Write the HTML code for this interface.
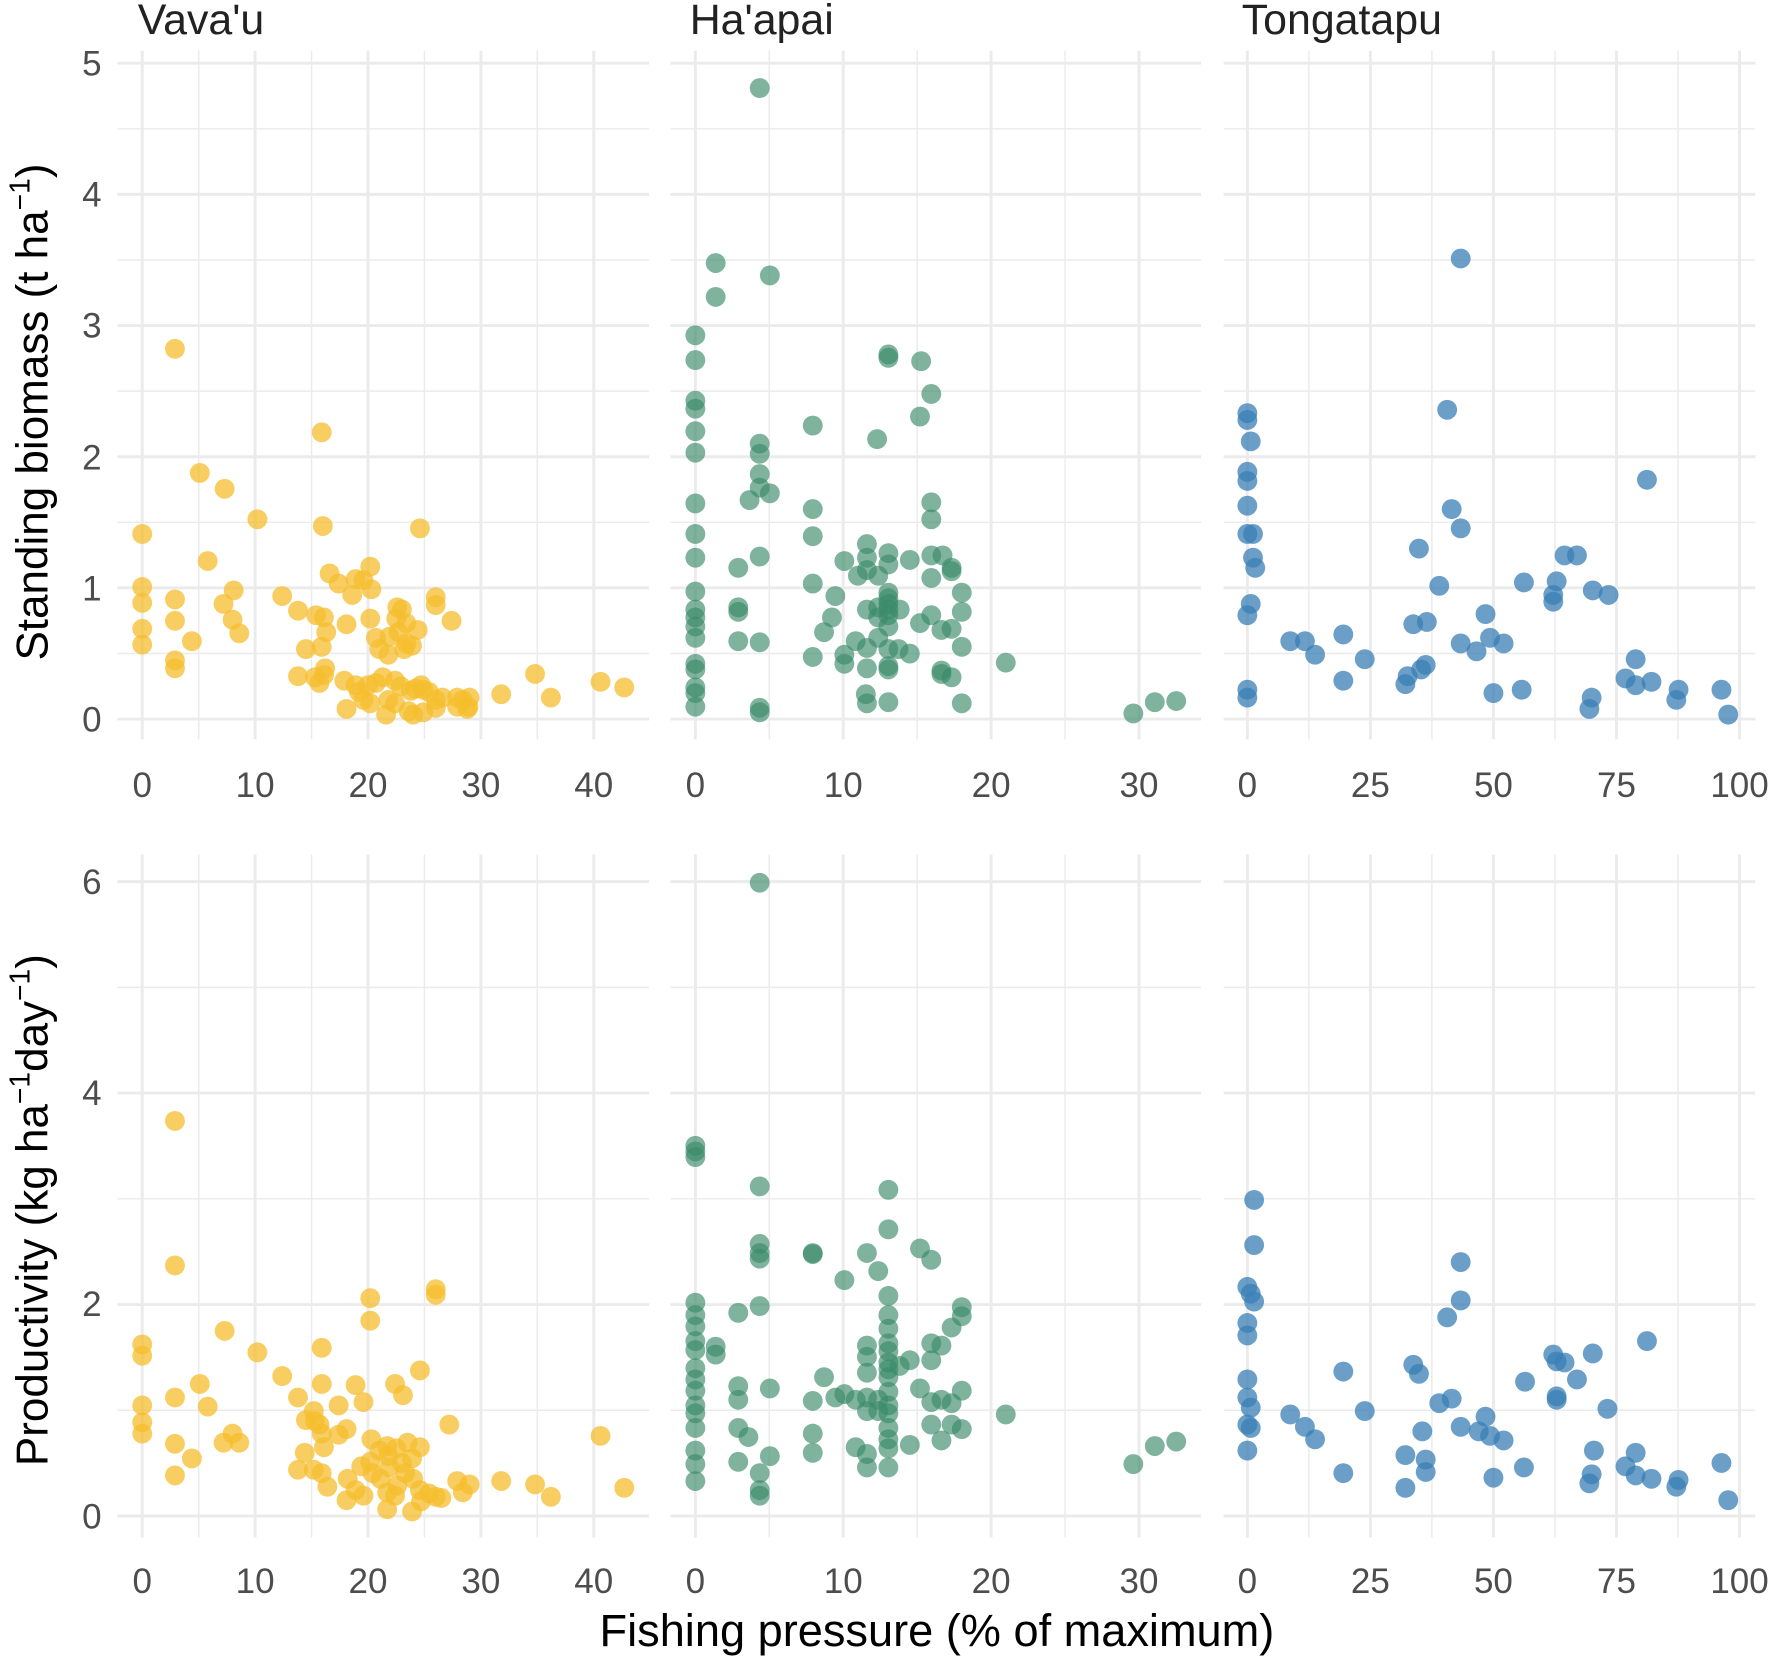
<!DOCTYPE html>
<html><head><meta charset="utf-8"><style>
html,body{margin:0;padding:0;background:#fff}
svg{display:block}
text{font-family:"Liberation Sans",Arial,sans-serif}
</style></head><body>
<svg id="s" width="1770" height="1656" viewBox="0 0 1568 1467" preserveAspectRatio="none" xmlns="http://www.w3.org/2000/svg">
<g id="grid"></g>
<g id="pts"></g>
<g font-size="38" fill="#222">
<text x="122" y="30">Vava'u</text>
<text x="611" y="30">Ha'apai</text>
<text x="1100" y="30">Tongatapu</text>
</g>
<g font-size="31" fill="#4d4d4d" text-anchor="end">
<text x="90" y="648">0</text><text x="90" y="532">1</text><text x="90" y="416">2</text><text x="90" y="299">3</text><text x="90" y="183">4</text><text x="90" y="67">5</text>
<text x="90" y="1354">0</text><text x="90" y="1166">2</text><text x="90" y="979">4</text><text x="90" y="792">6</text>
</g>
<g font-size="31" fill="#4d4d4d" text-anchor="middle" id="xl"></g>
<text transform="translate(42,365) rotate(-90)" font-size="39" fill="#000" text-anchor="middle">Standing biomass (t ha<tspan font-size="25" dy="-16">−1</tspan><tspan dy="16">)</tspan></text>
<text transform="translate(42,1072) rotate(-90)" font-size="39" fill="#000" text-anchor="middle">Productivity (kg ha<tspan font-size="25" dy="-16">−1</tspan><tspan dy="16">day</tspan><tspan font-size="25" dy="-16">−1</tspan><tspan dy="16">)</tspan></text>
<text x="830" y="1458" font-size="40" fill="#000" text-anchor="middle">Fishing pressure (% of maximum)</text>
</svg>
<script>
var NS="http://www.w3.org/2000/svg",g=document.getElementById('grid'),P=document.getElementById('pts'),XL=document.getElementById('xl');
function ln(x1,y1,x2,y2,w){var l=document.createElementNS(NS,'line');l.setAttribute('x1',x1);l.setAttribute('y1',y1);l.setAttribute('x2',x2);l.setAttribute('y2',y2);l.setAttribute('stroke','#ebebeb');l.setAttribute('stroke-width',w);g.appendChild(l);}
var cols=[{a:104,b:575,x0:126,n:4,lab:['0','10','20','30','40'],step:100},{a:594,b:1064,x0:616,n:3,lab:['0','10','20','30'],step:131},{a:1084,b:1555,x0:1105,n:4,lab:['0','25','50','75','100'],step:109}];
var rows=[{t:45,b:655,y0:637,step:116.2,ly:706},{t:757,b:1362,y0:1343,step:93.67,ly:1411}];
rows.forEach(function(r,ri){cols.forEach(function(c){
  if(ri==0){for(var k=0;k<=5;k++){ln(c.a,r.y0-k*r.step,c.b,r.y0-k*r.step,2.6);if(k<5)ln(c.a,r.y0-(k+.5)*r.step,c.b,r.y0-(k+.5)*r.step,1.3);}}
  else{for(var k=0;k<=6;k++){ln(c.a,r.y0-k*r.step,c.b,r.y0-k*r.step,k%2==0?2.6:1.3);}}
  for(var j=0;j<=c.n;j++){var x=c.x0+j*c.step;ln(x,r.t,x,r.b,2.6);if(j<c.n)ln(x+c.step/2,r.t,x+c.step/2,r.b,1.3);
    var t=document.createElementNS(NS,'text');t.setAttribute('x',x);t.setAttribute('y',r.ly);t.textContent=c.lab[j];XL.appendChild(t);}
});});
function dots(arr,col,op){for(var i=0;i<arr.length;i+=2){var c=document.createElementNS(NS,'circle');c.setAttribute('cx',arr[i]);c.setAttribute('cy',arr[i+1]);c.setAttribute('r',8.8);c.setAttribute('fill',col);c.setAttribute('fill-opacity',op);P.appendChild(c);}}
var Y=[155,309,285,383,177,419,199,433,228,460,126,473,286,466,372,468,184,497,126,520,155,531,207,523,198,535,126,534,250,528,264,541,280,545,287,547,292,508,300,517,315,513,312,527,322,514,328,502,329,522,356,540,351,548,386,529,386,536,126,557,155,550,206,549,212,561,126,571,170,568,289,560,307,553,328,548,333,565,345,564,352,538,353,560,360,552,370,558,400,550,271,575,285,573,336,575,344,580,358,575,360,570,365,572,155,585,155,592,264,599,279,600,283,605,288,592,287,598,305,603,315,607,318,613,326,607,333,605,339,600,350,603,355,608,364,612,368,610,373,607,375,611,380,613,386,620,392,618,405,618,410,620,416,618,415,626,444,615,474,597,488,618,532,604,553,609,307,628,322,620,328,623,342,633,350,623,362,630,366,633,375,631,386,627,405,626,414,628,344,620,
155,993,155,1121,126,1191,126,1201,199,1179,228,1198,250,1219,285,1194,328,1150,328,1170,386,1142,386,1147,372,1214,350,1226,357,1236,126,1245,155,1238,177,1226,184,1246,126,1260,126,1270,198,1278,206,1270,212,1278,264,1238,271,1258,279,1259,285,1226,300,1245,315,1227,322,1242,329,1275,278,1250,283,1262,285,1270,287,1282,270,1287,264,1302,278,1302,155,1279,155,1307,170,1292,300,1271,307,1266,343,1281,344,1290,351,1283,361,1278,372,1282,345,1300,356,1296,365,1292,336,1285,320,1299,328,1295,308,1310,315,1320,307,1329,322,1325,330,1305,337,1310,343,1322,352,1316,359,1305,366,1310,372,1320,380,1323,386,1326,398,1262,405,1312,410,1322,416,1315,391,1327,365,1339,373,1330,350,1325,343,1337,444,1312,474,1315,488,1326,532,1272,553,1318,290,1317,285,1305];
var G=[673,78,634,233,682,244,634,263,616,297,616,319,616,355,616,362,616,382,616,401,616,446,616,473,616,494,616,524,616,540,616,547,616,555,616,565,616,588,616,593,616,609,616,614,616,626,673,393,673,402,673,420,673,432,682,437,664,443,673,493,673,569,673,627,673,631,654,503,654,538,654,542,654,568,720,377,720,451,720,475,720,517,740,528,737,547,730,560,720,582,787,314,787,317,816,320,825,349,777,389,815,369,825,445,825,460,748,497,760,510,768,494,768,482,787,490,787,500,768,505,778,510,787,525,787,530,787,535,787,540,787,545,778,538,768,540,778,547,787,555,797,540,778,565,787,575,787,590,787,593,768,574,758,568,748,580,748,588,767,615,768,623,787,622,806,496,825,492,825,512,835,492,843,503,843,506,852,525,852,542,825,545,815,552,843,557,834,558,852,573,834,594,843,600,834,597,806,579,852,623,891,587,1004,632,1023,622,1042,621,796,575,768,592,
673,782,616,1015,616,1020,616,1025,673,1051,787,1054,787,1089,616,1154,616,1165,616,1175,616,1188,616,1196,616,1212,616,1222,616,1232,616,1245,616,1252,616,1265,616,1285,616,1297,616,1312,634,1193,634,1200,673,1102,673,1110,673,1115,654,1163,673,1157,682,1230,654,1228,654,1240,654,1265,663,1273,654,1295,673,1305,673,1320,673,1325,682,1290,720,1110,720,1111,720,1241,720,1270,720,1287,730,1220,740,1238,748,1134,768,1110,778,1126,787,1148,787,1165,787,1177,787,1190,787,1197,787,1207,787,1213,787,1220,787,1233,787,1245,787,1252,787,1265,787,1275,787,1283,787,1300,768,1192,768,1202,768,1216,768,1238,768,1250,778,1240,778,1250,758,1240,748,1235,758,1282,768,1300,768,1288,815,1106,825,1116,806,1205,825,1190,825,1205,834,1192,843,1176,852,1158,852,1166,825,1242,815,1230,834,1240,843,1243,852,1232,825,1262,843,1262,852,1266,834,1276,806,1280,891,1253,1004,1297,1023,1281,1042,1277,797,1210];
var B=[1294,229,1282,363,1105,366,1105,372,1108,391,1105,418,1105,426,1105,448,1105,473,1110,473,1110,494,1112,503,1108,535,1105,545,1105,611,1105,618,1257,486,1286,451,1294,468,1275,519,1459,425,1386,492,1397,492,1350,516,1379,515,1376,527,1376,533,1411,523,1425,527,1252,553,1264,551,1316,544,1143,568,1156,568,1165,580,1190,562,1209,584,1190,603,1245,606,1247,599,1259,593,1263,589,1294,570,1308,577,1320,565,1332,570,1323,614,1348,611,1440,601,1449,584,1449,607,1463,604,1410,618,1408,628,1485,620,1487,611,1525,611,1531,633,
1111,1063,1111,1103,1105,1140,1108,1146,1111,1153,1105,1172,1105,1183,1105,1222,1105,1238,1108,1247,1105,1262,1108,1265,1105,1285,1294,1118,1294,1152,1282,1167,1252,1209,1257,1217,1190,1215,1209,1250,1143,1253,1156,1264,1165,1275,1190,1305,1245,1289,1245,1318,1263,1293,1263,1304,1260,1268,1275,1243,1286,1239,1294,1264,1310,1268,1316,1255,1320,1272,1332,1276,1323,1309,1350,1300,1351,1224,1376,1200,1379,1206,1386,1207,1397,1222,1411,1199,1424,1248,1379,1237,1379,1240,1459,1188,1440,1299,1449,1287,1449,1307,1463,1310,1408,1314,1410,1306,1485,1317,1487,1311,1525,1296,1531,1329,1412,1285];
dots(Y,'#f6bd2e',0.75);dots(G,'#3a8a68',0.65);dots(B,'#3a7fb6',0.75);
</script>
</body></html>
